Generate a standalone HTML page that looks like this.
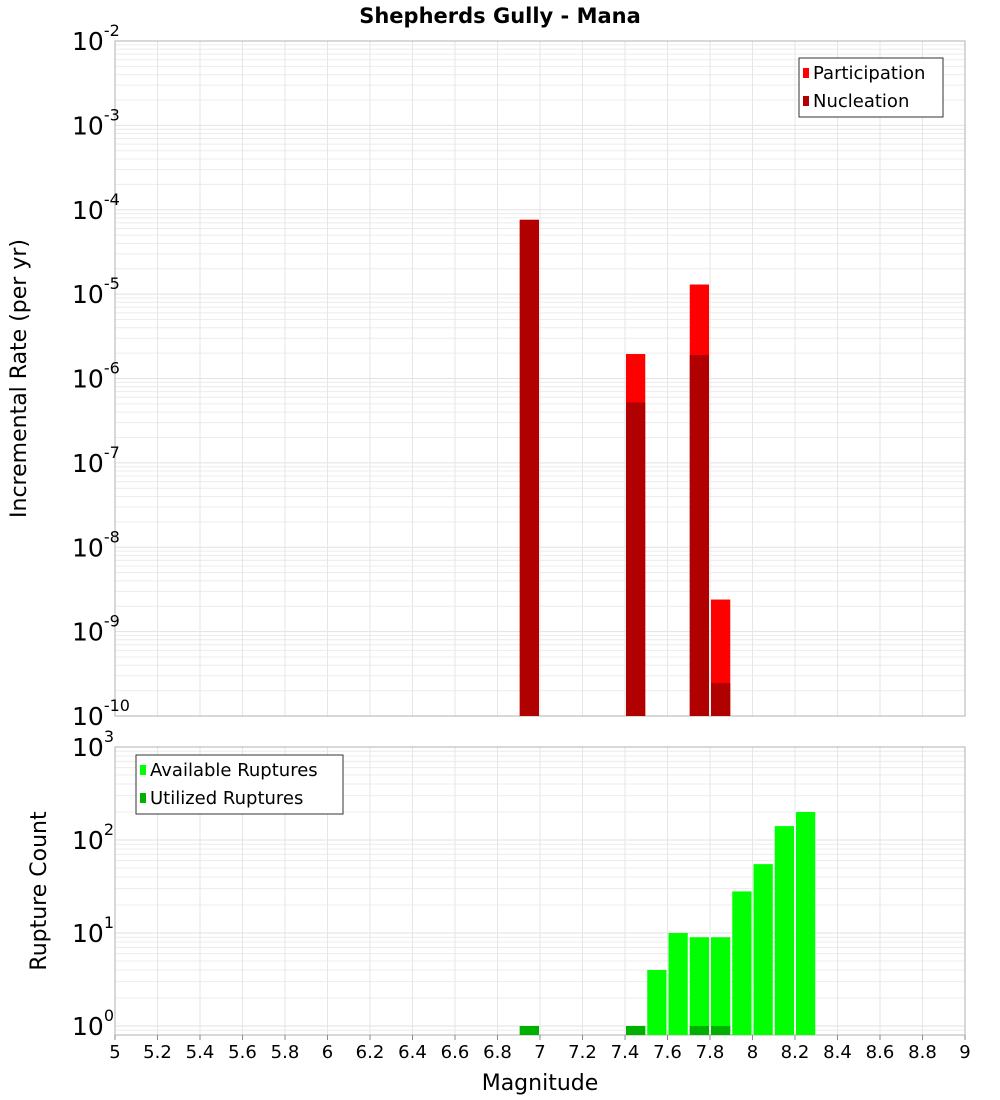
<!DOCTYPE html>
<html><head><meta charset="utf-8"><style>
body{margin:0;background:#fff;}
svg{display:block;font-family:"DejaVu Sans","Liberation Sans",sans-serif;}
</style></head><body>
<svg id="chart" width="1000" height="1100" xmlns="http://www.w3.org/2000/svg">
<text x="500" y="23" text-anchor="middle" font-size="21" font-weight="bold">Shepherds Gully - Mana</text>
<g id="top"></g>
<g id="bot"></g>
</svg>
<script>
const binCenters1 = [6.95, 7.45, 7.75, 7.85];
const participation = [7.6e-5, 1.95e-6, 1.3e-5, 2.4e-9];
const nucleation = [7.6e-5, 5.2e-7, 1.9e-6, 2.45e-10];
const binCenters2 = [6.95, 7.45, 7.55, 7.65, 7.75, 7.85, 7.95, 8.05, 8.15, 8.25];
const available = [1, 1, 4, 10, 9, 9, 28, 55, 141, 200];
const utilized = [1, 1, 0, 0, 1, 1, 0, 0, 0, 0];
const xTicks = [5,5.2,5.4,5.6,5.8,6,6.2,6.4,6.6,6.8,7,7.2,7.4,7.6,7.8,8,8.2,8.4,8.6,8.8,9];
const topExp = [-2,-3,-4,-5,-6,-7,-8,-9,-10];
const botExp = [0,1,2,3];

const NS="http://www.w3.org/2000/svg";
const L=115, R=965;
const x=v=>L+(v-5)/4*(R-L);
function mk(tag,attrs,parent){const e=document.createElementNS(NS,tag);for(const k in attrs)e.setAttribute(k,attrs[k]);parent.appendChild(e);return e;}

function panel(g,top,bottom,lmin,lmax,yLabel,labelY){
  const y=v=>bottom-(Math.log10(v)-lmin)/(lmax-lmin)*(bottom-top);
  // grid
  for(let d=Math.floor(lmin);d<lmax;d++){
    for(let m=1;m<10;m++){
      const v=m*Math.pow(10,d);const lv=Math.log10(v);
      if(lv<lmin||lv>lmax)continue;
      const gl=mk('line',{x1:L,x2:R,y1:y(v),y2:y(v),stroke:m===1?'#e2e2e2':'#ececec','stroke-width':1},g);
      
      
    }
  }
  for(const t of xTicks){
    const gl=mk('line',{x1:x(t),x2:x(t),y1:top,y2:bottom,stroke:'#e6e6e6','stroke-width':1},g);
    
    
  }
  const fr=mk('rect',{x:L,y:top,width:R-L,height:bottom-top,fill:'none',stroke:'#b0b0b0','stroke-width':1},g);
  
  
  const yl=mk('text',{x:0,y:0,'font-size':22,'text-anchor':'middle',transform:`translate(${labelY},${(top+bottom)/2}) rotate(-90)`},g);
  yl.textContent=yLabel;
  
  
  return y;
}
function tickLabels(g,y,exps){
  for(const e of exps){
    const t=mk('text',{x:112,y:y(Math.pow(10,e))+9,'font-size':25,'text-anchor':'end'},g);
    t.textContent='10';
    
    
    const s=mk('tspan',{dy:-14,'font-size':16},t);
    s.textContent=String(e);
    // shift exponent to follow base
    t.setAttribute('text-anchor','start');
    t.setAttribute('x',72);
  }
}
function bars(g,centers,vals,y,bottom,color,name){
  centers.forEach((c,i)=>{
    if(vals[i]<=0)return;
    const yt=y(vals[i]);
    const r=mk('rect',{x:x(c-0.05)+1,y:yt,width:x(c+0.05)-x(c-0.05)-2,height:bottom-yt,fill:color},g);
    
    
  });
}
function legend(g,bx,by,w,items){
  const b=mk('rect',{x:bx,y:by,width:w,height:59,fill:'#fff',stroke:'#333','stroke-width':1},g);
  
  
  items.forEach((it,i)=>{
    const sw=mk('rect',{x:bx+4,y:by+10+i*28,width:6,height:10,fill:it[1]},g);
    
    
    const t=mk('text',{x:bx+14,y:by+21+i*28,'font-size':18},g);
    t.textContent=it[0];
    
    
  });
}

const gt=document.getElementById('top');
const yTop=panel(gt,41,716,-10,-2,'Incremental Rate (per yr)',26);
bars(gt,binCenters1,participation,yTop,716,'#ff0000','participation-bar');
bars(gt,binCenters1,nucleation,yTop,716,'#b00000','nucleation-bar');
tickLabels(gt,yTop,topExp);
legend(gt,799,58,144,[['Participation','#ff0000'],['Nucleation','#b00000']]);

const gb=document.getElementById('bot');
const lminB=-0.097;
const yBot=panel(gb,747,1035,lminB,3,'Rupture Count',46);
// fix scale so 10^0 at 1026 and 10^3 at 747
bars(gb,binCenters2,available,yBot,1035,'#00ff00','available-bar');
bars(gb,binCenters2,utilized,yBot,1035,'#00b000','utilized-bar');
tickLabels(gb,yBot,botExp);
legend(gb,136,755,207,[['Available Ruptures','#00ff00'],['Utilized Ruptures','#00b000']]);

const svg=document.getElementById('chart');
for(const t of xTicks){
  const tl=mk('line',{x1:x(t),x2:x(t),y1:1035,y2:1040,stroke:'#888'},svg);
  
  
  const tx=mk('text',{x:x(t),y:1058,'font-size':18,'text-anchor':'middle'},svg);
  tx.textContent=String(t);
  
  
}
const xt=mk('text',{x:540,y:1090,'font-size':22,'text-anchor':'middle'},svg);
xt.textContent='Magnitude';


</script>
</body></html>
